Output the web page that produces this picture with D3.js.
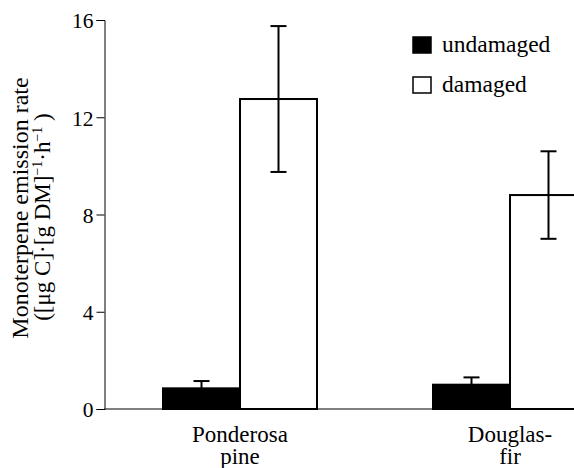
<!DOCTYPE html>
<html><head><meta charset="utf-8">
<script src="https://cdn.jsdelivr.net/npm/d3@7"></script>
<style>body{margin:0;background:#fff}svg{display:block}text{font-family:"Liberation Serif","Times New Roman",serif;fill:#000}</style>
</head><body><svg id="c" width="574" height="468"></svg>
<script>
const categories = ["Ponderosa pine", "Douglas-fir"];
const categoryLines = [["Ponderosa", "pine"], ["Douglas-", "fir"]];
const series = ["undamaged", "damaged"];
const undamaged = [0.85, 1.0];
const undamagedErr = [0.3, 0.3];
const damaged = [12.75, 8.8];
const damagedErr = [3.0, 1.8];
const yTicks = [0, 4, 8, 12, 16];

const svg = d3.select("#c");
const y = d3.scaleLinear().domain([0, 16]).range([409, 20]);
const x = d3.scaleBand().domain(categories).range([105, 645]).padding(0);
const sub = d3.scaleBand().domain(series).range([-77, 77]).padding(0);

// x baseline
svg.append("line").attr("x1", 104.5).attr("x2", 574).attr("y1", y(0)).attr("y2", y(0))
  .attr("stroke", "#000").attr("stroke-width", 1);

// y axis
const ya = svg.append("g").attr("transform", "translate(104.5,0)")
  .call(d3.axisLeft(y).tickValues(yTicks).tickSize(8).tickPadding(3));
ya.select(".domain").attr("stroke", "#000").attr("stroke-width", 1);
ya.selectAll(".tick line").attr("stroke", "#000");
ya.selectAll(".tick text").style("font-family", '"Liberation Serif",serif').style("font-size", "21.5px").attr("fill", "#000").attr("dy", "0.36em");

const data = [];
categories.forEach((c, i) => {
  data.push({c, s: "undamaged", v: undamaged[i], e: undamagedErr[i]});
  data.push({c, s: "damaged", v: damaged[i], e: damagedErr[i]});
});

const g = svg.append("g");
g.selectAll("rect").data(data).join("rect")
  .attr("x", d => x(d.c) + x.bandwidth() / 2 + sub(d.s))
  .attr("y", d => y(d.v))
  .attr("width", sub.bandwidth())
  .attr("height", d => y(0) - y(d.v))
  .attr("fill", d => d.s === "undamaged" ? "#000" : "#fff")
  .attr("stroke", "#000").attr("stroke-width", 2);

// error bars
const eb = g.selectAll("g.err").data(data).join("g").attr("class", "err");
const cx = d => x(d.c) + x.bandwidth() / 2 + sub(d.s) + sub.bandwidth() / 2;
eb.append("line").attr("x1", cx).attr("x2", cx)
  .attr("y1", d => d.s === "undamaged" ? y(d.v) : y(d.v - d.e))
  .attr("y2", d => y(d.v + d.e)).attr("stroke", "#000").attr("stroke-width", 2);
eb.append("line").attr("x1", d => cx(d) - 8).attr("x2", d => cx(d) + 8)
  .attr("y1", d => y(d.v + d.e)).attr("y2", d => y(d.v + d.e)).attr("stroke", "#000").attr("stroke-width", 2);
eb.filter(d => d.s === "damaged").append("line").attr("x1", d => cx(d) - 8).attr("x2", d => cx(d) + 8)
  .attr("y1", d => y(d.v - d.e)).attr("y2", d => y(d.v - d.e)).attr("stroke", "#000").attr("stroke-width", 2);

// category labels
categories.forEach((c, i) => {
  const t = svg.append("text").attr("text-anchor", "middle").style("font-size", "23px")
    .attr("x", x(c) + x.bandwidth() / 2);
  categoryLines[i].forEach((ln, j) => t.append("tspan").attr("x", x(c) + x.bandwidth() / 2)
    .attr("y", 442 + j * 22).text(ln));
});

// y label
const yl = svg.append("g").attr("transform", "rotate(-90)");
yl.append("text").attr("text-anchor", "middle").attr("x", -208).attr("y", 27.5).style("font-size", "24px")
  .text("Monoterpene emission rate");
const t2 = yl.append("text").attr("text-anchor", "middle").attr("x", -217).attr("y", 50).style("font-size", "23px");
t2.append("tspan").text("([μg C]·[g DM]");
t2.append("tspan").attr("dy", -8).style("font-size", "14px").text("−1");
t2.append("tspan").attr("dy", 8).text("·h");
t2.append("tspan").attr("dy", -8).style("font-size", "14px").text("−1");
t2.append("tspan").attr("dy", 8).text(" )");

// legend
series.forEach((s, i) => {
  svg.append("rect").attr("x", 413).attr("y", 37 + i * 40).attr("width", 18).attr("height", 16)
    .attr("fill", s === "undamaged" ? "#000" : "#fff").attr("stroke", "#000").attr("stroke-width", 1.5);
  svg.append("text").attr("x", 442).attr("y", 52 + i * 40).style("font-size", "23.5px").text(s);
});
</script></body></html>
